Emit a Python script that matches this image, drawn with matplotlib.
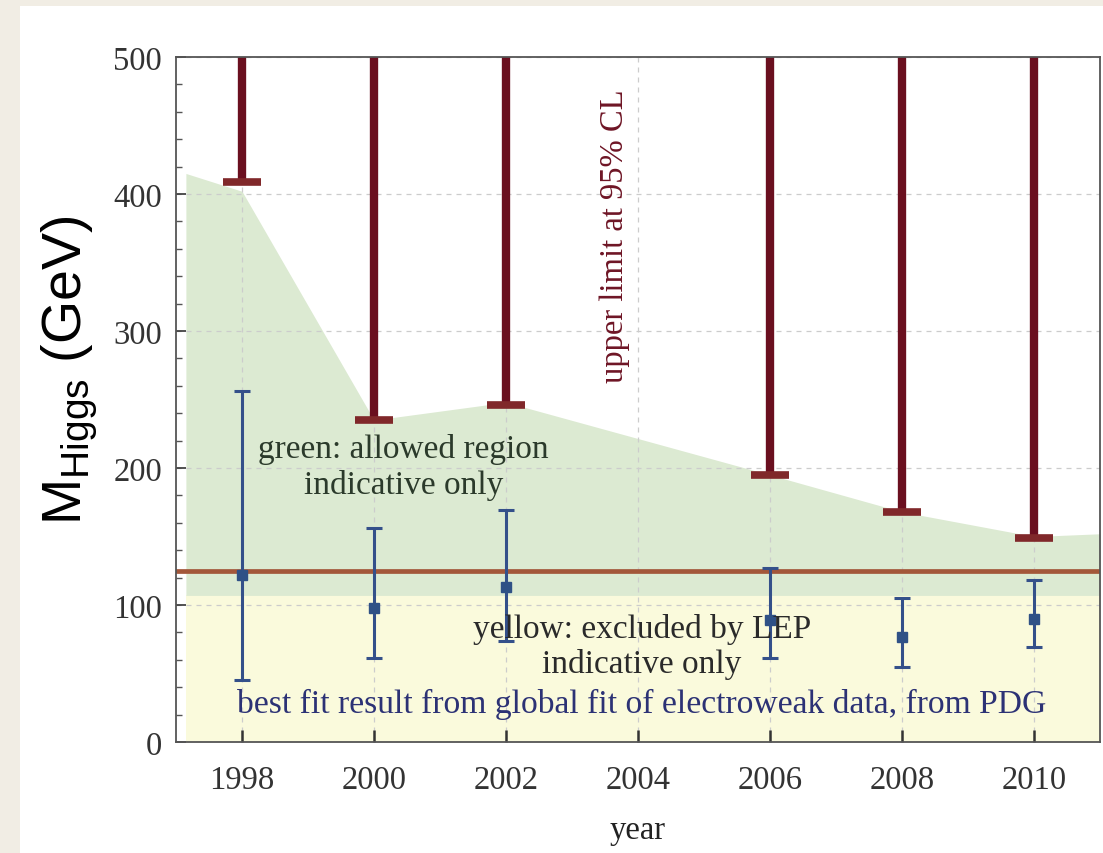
import matplotlib.pyplot as plt
from matplotlib.patches import Rectangle

# upper limits at 95% CL (GeV)
years = [1998, 2000, 2002, 2006, 2008, 2010]
upper_limit = [409, 235, 246, 195, 168, 149]

# best fit from global electroweak fit (GeV)
fit_value = [122, 98, 113, 89, 77, 90]
fit_high = [256, 156, 169, 127, 105, 118]
fit_low = [45, 61, 74, 61, 55, 69]

# green allowed region outline
green_years = [1997.15, 1998, 2000, 2002, 2006, 2008, 2010, 2011]
green_top = [415, 402, 235, 248, 195, 168, 150, 152]
lep_limit = 107
higgs_mass = 125

xticks = [1998, 2000, 2002, 2004, 2006, 2008, 2010]
yticks = [0, 100, 200, 300, 400, 500]

serif = ['Liberation Serif', 'DejaVu Serif']

fig = plt.figure(figsize=(11.03, 8.54), dpi=100, facecolor='#f1ede4')
fig.patches.append(Rectangle((20/1103, 0), 1, 1 - 7/854, transform=fig.transFigure,
                             facecolor='white', edgecolor='none', zorder=-10))
ax = fig.add_axes([176/1103, 111/854, 924/1103, 685/854])
ax.set_zorder(2)
ax.set_xlim(1997, 2011)
ax.set_ylim(0, 500)

# regions
ax.fill_between([green_years[0], green_years[-1]], 0, lep_limit,
                color='#fafadc', lw=0, zorder=1)
ax.fill_between(green_years, lep_limit, green_top, color='#dcead2', lw=0, zorder=1)

ax.grid(True, color='#cccccc', ls=(0, (4, 4)), lw=0.9, zorder=2)
ax.set_axisbelow(False)

# LHC mass line
ax.axhline(higgs_mass, color='#a3573a', lw=3.4, zorder=3)

# upper limits
ax.vlines(years, upper_limit, 500, color='#6a0f1f', lw=6, zorder=4)
ax.plot(years, upper_limit, ls='none', marker='_', ms=28, mew=5.5,
        color='#80282a', zorder=5)

# best fit with errors
err = [[v - l for v, l in zip(fit_value, fit_low)],
       [h - v for v, h in zip(fit_value, fit_high)]]
ax.errorbar(years, fit_value, yerr=err, fmt='s', ms=6.5, color='#2f5186',
            ecolor='#34508a', elinewidth=2.2, capsize=6, capthick=2.2, zorder=6)

# annotations
ax.text(2003.65, 370, 'upper limit at 95% CL', rotation=90, ha='center', va='center',
        fontsize=23.5, color='#6e1525', family=serif, zorder=7)
ax.text(2000.45, 201, 'green: allowed region\nindicative only', ha='center', va='center',
        fontsize=24, color='#2b3a2b', family=serif, linespacing=1.2, zorder=7)
ax.text(2004.06, 70, 'yellow: excluded by LEP\nindicative only', ha='center', va='center',
        fontsize=24, color='#2a2a2a', family=serif, linespacing=1.2, zorder=7)
ax.text(2004.05, 28, 'best fit result from global fit of electroweak data, from PDG',
        ha='center', va='center', fontsize=24.2, color='#2c3275', family=serif, zorder=7)

ax.set_xticks(xticks)
ax.set_yticks(yticks)
ax.set_yticks(range(0, 501, 20), minor=True)
ax.tick_params(axis='x', direction='in', length=9, width=1.8, colors='#333333',
               labelsize=23.5, pad=16)
ax.tick_params(axis='y', which='major', direction='in', length=7, width=1.2,
               colors='#333333', labelsize=23.5, pad=10)
ax.tick_params(axis='y', which='minor', direction='in', length=4, width=1, colors='#555555')
for lab in ax.get_xticklabels() + ax.get_yticklabels():
    lab.set_family(serif)
for s in ax.spines.values():
    s.set_color('#555555')
    s.set_linewidth(1.3)
    s.set_zorder(8)

ax.set_xlabel('year', fontsize=23.5, family=serif, color='#222222', labelpad=14)
fig.text(70/1103, 1 - 370/854, r'$\mathregular{M_{Higgs}}$ (GeV)', rotation=90,
         ha='center', va='center', fontsize=40, family=['Liberation Sans', 'DejaVu Sans'])

fig.savefig('out.png', dpi=100, facecolor=fig.get_facecolor())
